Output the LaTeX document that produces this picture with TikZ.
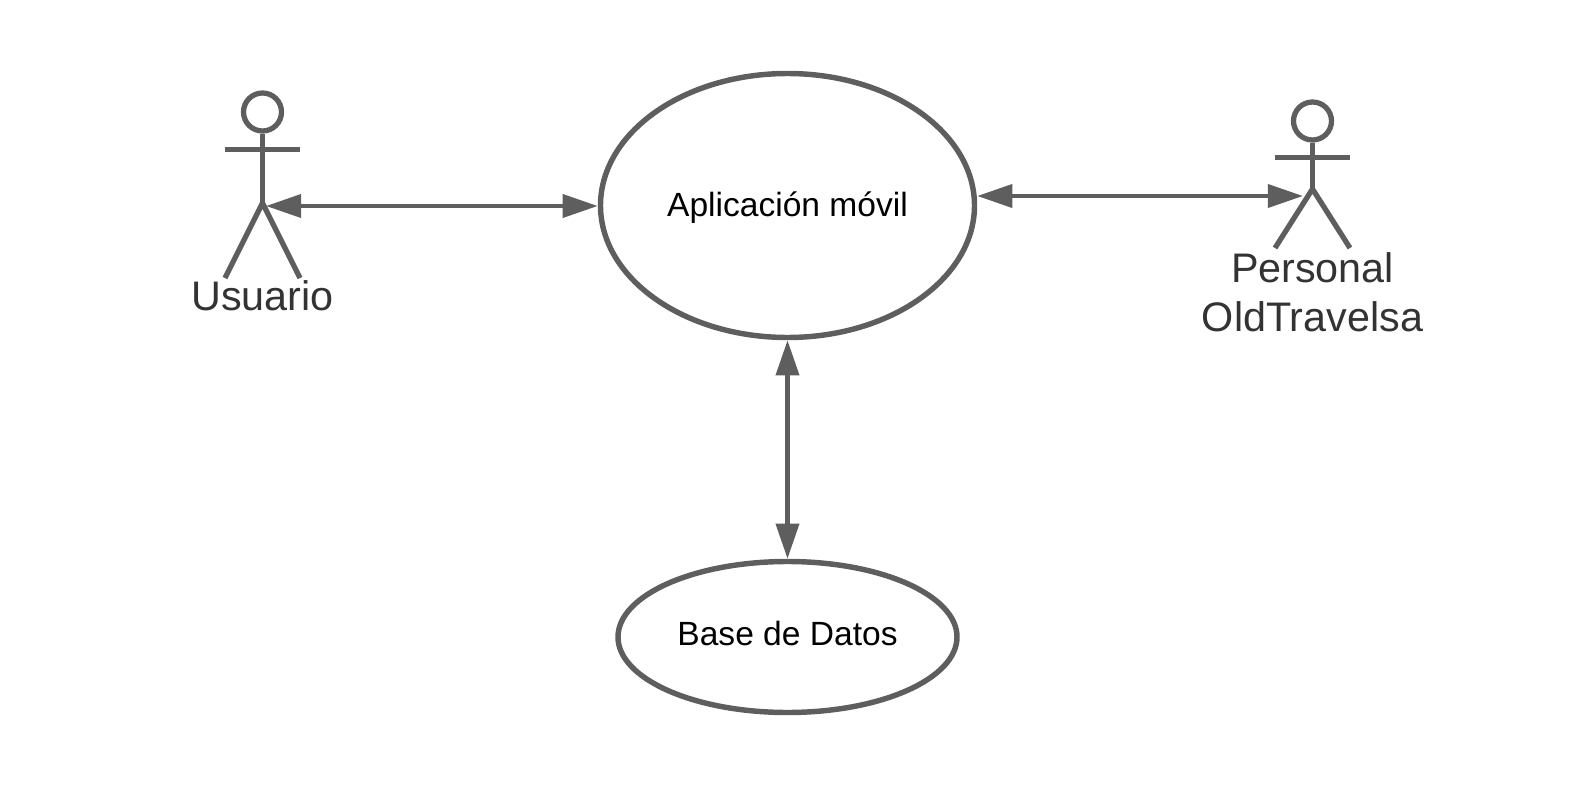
\documentclass[tikz,border=0pt]{standalone}
\usepackage{fontspec}
\setmainfont{Liberation Sans}
\usetikzlibrary{arrows.meta,shapes.geometric}
\definecolor{linegray}{HTML}{5E5E5E}
\definecolor{textgray}{HTML}{333333}
\tikzset{
  usecase/.style={draw=linegray,shape=ellipse,line width=1.55pt,inner sep=0pt,font=\fontsize{9.55}{12}\selectfont},
  head/.style={draw=linegray,shape=circle,line width=1.5pt,inner sep=0pt,minimum size=0.38cm},
  limb/.style={draw=linegray,line width=1.5pt},
  link/.style={draw=linegray,line width=1.25pt,{Triangle[length=10pt,width=6.5pt]}-{Triangle[length=10pt,width=6.5pt]}},
  actorname/.style={text=textgray,font=\fontsize{11.75}{14}\selectfont,align=center,inner sep=0pt}
}
\begin{document}
\begin{tikzpicture}
\useasboundingbox (0,0) rectangle (15.75,-7.88);

\node[usecase,minimum width=3.74cm,minimum height=2.64cm,text height=8.4pt] (app) at (7.875,-2.055) {Aplicación móvil};
\node[usecase,minimum width=3.39cm,minimum height=1.51cm,text depth=2pt] (db) at (7.875,-6.37) {Base de Datos};

% Usuario
\node[head] (headA) at (2.625,-1.12) {};
\coordinate (hipA) at (2.625,-2.03);
\coordinate (handAl) at (2.25,-1.495);
\coordinate (handAr) at (3.0,-1.495);
\coordinate (footAl) at (2.25,-2.78);
\coordinate (footAr) at (3.0,-2.78);
\draw[limb] (headA.south) -- (hipA);
\draw[limb] (handAl) -- (handAr);
\draw[limb] (footAl) -- (hipA) -- (footAr);
\node[actorname] (usuario) at (2.625,-2.96) {Usuario};

% Personal
\node[head] (headB) at (13.125,-1.21) {};
\coordinate (hipB) at (13.125,-1.89);
\coordinate (handBl) at (12.75,-1.575);
\coordinate (handBr) at (13.5,-1.575);
\coordinate (footBl) at (12.75,-2.48);
\coordinate (footBr) at (13.5,-2.48);
\draw[limb] (headB.south) -- (hipB);
\draw[limb] (handBl) -- (handBr);
\draw[limb] (footBl) -- (hipB) -- (footBr);
\node[actorname] (personal) at (13.125,-2.925) {Personal\\OldTravelsa};

% connectors
\coordinate (tipA) at (2.66,-2.06);
\coordinate (tipB) at (13.03,-1.96);
\draw[link] (tipA) -- (tipA -| app.west);
\draw[link] (tipB -| app.east) -- (tipB);
\draw[link] (app) -- (db);
\end{tikzpicture}
\end{document}
